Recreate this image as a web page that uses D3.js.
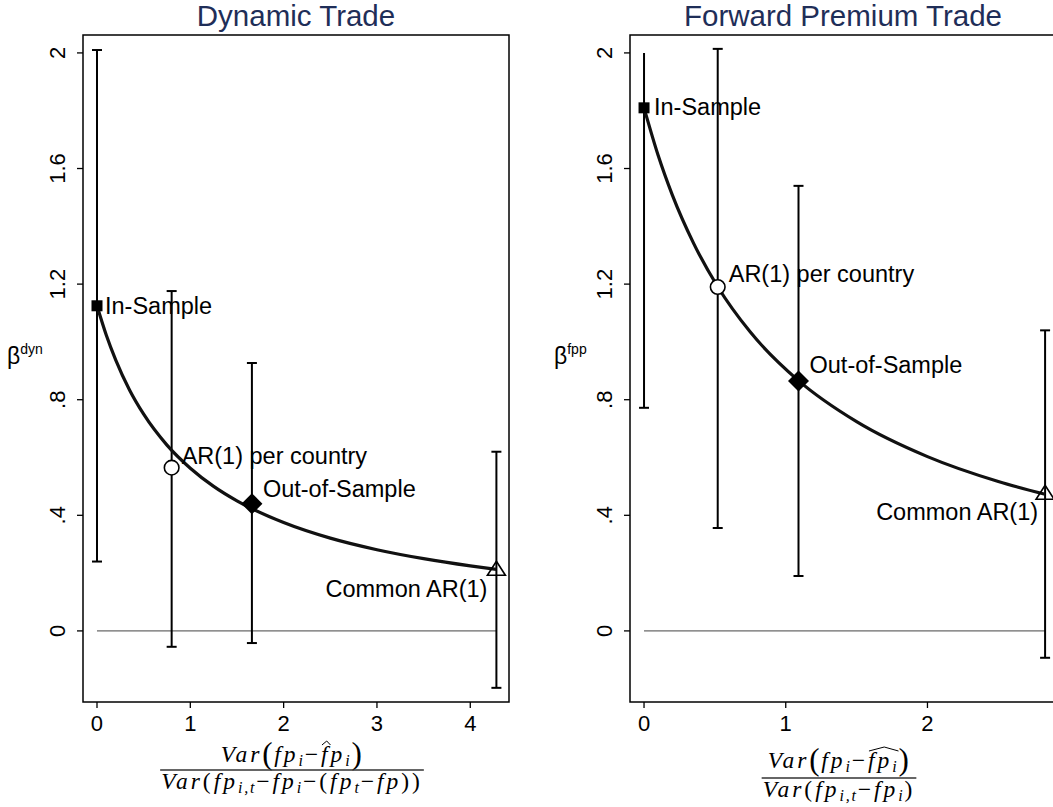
<!DOCTYPE html>
<html>
<head>
<meta charset="utf-8">
<script src="https://cdn.jsdelivr.net/npm/d3@7"></script>
<style>
  body { margin: 0; background: #fff; }
  svg { display: block; font-family: "Liberation Sans", Arial, sans-serif; }
</style>
</head>
<body>
<div id="chart"></div>
<script>
// ---- data ----
var pointNames = ["In-Sample", "AR(1) per country", "Out-of-Sample", "Common AR(1)"];
var yTicks = [0, 0.4, 0.8, 1.2, 1.6, 2];
var yTickLabels = ["0", ".4", ".8", "1.2", "1.6", "2"];

// Dynamic Trade
var dynX    = [0, 0.80, 1.66, 4.28];
var dynBeta = [1.125, 0.565, 0.44, 0.215];
var dynLo   = [0.24, -0.055, -0.042, -0.197];
var dynHi   = [2.01, 1.176, 0.927, 0.62];
var dynHiCap = [true, true, true, true];
var dynXTicks = [0, 1, 2, 3, 4];
var dynCurveX = [0, 0.1, 0.2, 0.35, 0.5, 0.75, 1, 1.25, 1.5, 2, 2.5, 3, 3.5, 4, 4.28];
var dynCurveY = [1.125, 1.023, 0.938, 0.833, 0.75, 0.643, 0.563, 0.5, 0.45, 0.375, 0.321, 0.281, 0.25, 0.225, 0.213];

// Forward Premium Trade
var fppX    = [0, 0.52, 1.09, 2.83];
var fppBeta = [1.81, 1.19, 0.865, 0.478];
var fppLo   = [0.772, 0.356, 0.19, -0.093];
var fppHi   = [2.0, 2.014, 1.54, 1.04];
var fppHiCap = [false, true, true, true];
var fppXTicks = [0, 1, 2];
var fppCurveX = [0, 0.1, 0.2, 0.35, 0.52, 0.75, 1.09, 1.5, 2, 2.5, 2.83];
var fppCurveY = [1.81, 1.645, 1.508, 1.341, 1.191, 1.034, 0.866, 0.724, 0.603, 0.517, 0.473];

// ---- layout ----
var svgWidth = 1053;
var svgHeight = 807;
var boxTop = 35, boxBottom = 702, boxW = 426;
var titleColor = "#1f2e58";
var mathFont = "'Liberation Serif', 'Times New Roman', serif";

var svg = d3.select("#chart")
  .append("svg")
  .attr("width", svgWidth)
  .attr("height", svgHeight);

svg.append("rect").attr("width", svgWidth).attr("height", svgHeight).attr("fill", "#fff");

var yScale = d3.scaleLinear().domain([-0.246, 2.062]).range([boxBottom, boxTop]);

// label offsets (pixels from marker) per point: [dx, dy, anchor]
var dynLabelPos = [[8, 8, "start"], [10, -4, "start"], [11, -7, "start"], [-9, 28, "end"]];
var fppLabelPos = [[10, 7, "start"], [11, -5, "start"], [11, -8, "start"], [-7, 27, "end"]];

function drawPanel(cfg) {
  var g = svg.append("g");
  var left = cfg.left;
  var x = d3.scaleLinear().domain(cfg.xDomain).range([left, left + boxW]);

  // plot box
  g.append("rect")
    .attr("x", left).attr("y", boxTop)
    .attr("width", boxW).attr("height", boxBottom - boxTop)
    .attr("fill", "#fff").attr("stroke", "#000").attr("stroke-width", 1.5);

  // title
  g.append("text")
    .attr("x", left + boxW / 2).attr("y", 25.5)
    .attr("text-anchor", "middle")
    .attr("font-size", "29.5px")
    .attr("fill", titleColor)
    .text(cfg.title);

  // y axis ticks + rotated labels
  var yAxis = g.append("g");
  yAxis.selectAll("line").data(yTicks).enter().append("line")
    .attr("x1", left - 6).attr("x2", left)
    .attr("y1", d => yScale(d)).attr("y2", d => yScale(d))
    .attr("stroke", "#000").attr("stroke-width", 1.3);
  yAxis.selectAll("text").data(yTicks).enter().append("text")
    .attr("transform", d => "translate(" + (left - 18) + "," + yScale(d) + ") rotate(-90)")
    .attr("text-anchor", "middle")
    .attr("font-size", "22px")
    .text((d, i) => yTickLabels[i]);

  // x axis ticks + labels
  var xAxis = g.append("g");
  xAxis.selectAll("line").data(cfg.xTicks).enter().append("line")
    .attr("x1", d => x(d)).attr("x2", d => x(d))
    .attr("y1", boxBottom).attr("y2", boxBottom + 6)
    .attr("stroke", "#000").attr("stroke-width", 1.3);
  xAxis.selectAll("text").data(cfg.xTicks).enter().append("text")
    .attr("x", d => x(d)).attr("y", boxBottom + 29)
    .attr("text-anchor", "middle")
    .attr("font-size", "22px")
    .text(d => d);

  // y title: beta with superscript
  var yt = g.append("text")
    .attr("x", left - 76).attr("y", 364)
    .attr("font-size", "23px");
  yt.append("tspan").text("\u03B2");
  yt.append("tspan").attr("dy", -10).attr("font-size", "14px").text(cfg.sup);

  // zero line
  g.append("line")
    .attr("x1", x(0)).attr("x2", x(cfg.px[cfg.px.length - 1]))
    .attr("y1", yScale(0)).attr("y2", yScale(0))
    .attr("stroke", "#444").attr("stroke-width", 1);

  var idx = d3.range(cfg.px.length);

  // confidence intervals
  g.selectAll(".ci").data(idx).enter().append("line")
    .attr("x1", i => x(cfg.px[i])).attr("x2", i => x(cfg.px[i]))
    .attr("y1", i => yScale(cfg.lo[i])).attr("y2", i => yScale(cfg.hi[i]))
    .attr("stroke", "#000").attr("stroke-width", 2);
  g.selectAll(".capLo").data(idx).enter().append("line")
    .attr("x1", i => x(cfg.px[i]) - 5).attr("x2", i => x(cfg.px[i]) + 5)
    .attr("y1", i => yScale(cfg.lo[i])).attr("y2", i => yScale(cfg.lo[i]))
    .attr("stroke", "#000").attr("stroke-width", 2);
  g.selectAll(".capHi").data(idx.filter(i => cfg.hiCap[i])).enter().append("line")
    .attr("x1", i => x(cfg.px[i]) - 5).attr("x2", i => x(cfg.px[i]) + 5)
    .attr("y1", i => yScale(cfg.hi[i])).attr("y2", i => yScale(cfg.hi[i]))
    .attr("stroke", "#000").attr("stroke-width", 2);

  // fitted curve
  var curve = d3.zip(cfg.cx, cfg.cy);
  var line = d3.line()
    .x(d => x(d[0])).y(d => yScale(d[1]))
    .curve(d3.curveMonotoneX);
  g.append("path").datum(curve)
    .attr("d", line)
    .attr("fill", "none").attr("stroke", "#111").attr("stroke-width", 3.2);

  // markers
  var cxs = idx.map(i => x(cfg.px[i]));
  var cys = idx.map(i => yScale(cfg.beta[i]));
  g.append("rect")
    .attr("x", cxs[0] - 5.5).attr("y", cys[0] - 5.5)
    .attr("width", 11).attr("height", 11).attr("fill", "#000");
  g.append("circle")
    .attr("cx", cxs[1]).attr("cy", cys[1]).attr("r", 7.3)
    .attr("fill", "#fff").attr("stroke", "#000").attr("stroke-width", 1.6);
  g.append("path")
    .attr("d", "M" + cxs[2] + "," + (cys[2] - 10.5) + "L" + (cxs[2] + 10.5) + "," + cys[2] +
      "L" + cxs[2] + "," + (cys[2] + 10.5) + "L" + (cxs[2] - 10.5) + "," + cys[2] + "Z")
    .attr("fill", "#000");
  g.append("path")
    .attr("d", "M" + cxs[3] + "," + (cys[3] - 7.5) + "L" + (cxs[3] + 9) + "," + (cys[3] + 6.5) +
      "L" + (cxs[3] - 9) + "," + (cys[3] + 6.5) + "Z")
    .attr("fill", "none").attr("stroke", "#000").attr("stroke-width", 1.6);

  // marker labels
  g.selectAll(".lab").data(idx).enter().append("text")
    .attr("x", i => cxs[i] + cfg.labelPos[i][0])
    .attr("y", i => cys[i] + cfg.labelPos[i][1])
    .attr("text-anchor", i => cfg.labelPos[i][2])
    .attr("font-size", "23.5px")
    .text(i => pointNames[i]);

  // x title: fraction built from pieces
  drawFraction(g, left + boxW / 2 - 4, cfg.barY, cfg.num, cfg.den, cfg.numLift);
}

// pieces: [text, kind] kind: i = italic, n = upright, s = subscript italic, b = big paren, h = italic with hat, hs = sub with hat
function layoutRow(g, pieces, baseline) {
  var row = g.append("g");
  var cur = 0, hatL = null, hatR = null;
  pieces.forEach(function (p) {
    var kind = p[1];
    var t = row.append("text")
      .attr("x", cur)
      .style("font-family", mathFont)
      .text(p[0]);
    var size = 23.5, y = baseline, ls = 3;
    if (kind === "s" || kind === "hs") { size = 16; y = baseline + 4; ls = 1.8; }
    if (kind === "b") { size = 31; y = baseline + 2; ls = 1.5; }
    t.attr("y", y).attr("font-size", size + "px")
      .style("letter-spacing", ls + "px")
      .attr("font-style", (kind === "n" || kind === "b") ? "normal" : "italic");
    var w = t.node().getComputedTextLength();
    if (kind === "h" || kind === "hs") {
      if (hatL === null) hatL = cur;
      hatR = cur + w;
    }
    cur += w;
  });
  if (hatL !== null) {
    var top = baseline - 21;
    row.append("path")
      .attr("d", "M" + (hatL + 1) + "," + (top + 4) + "L" + ((hatL + hatR) / 2 + 1) + "," + top + "L" + (hatR) + "," + (top + 4))
      .attr("fill", "none").attr("stroke", "#000").attr("stroke-width", 1);
  }
  return { g: row, w: cur };
}

function drawFraction(g, cx, barY, num, den, numLift) {
  var fg = g.append("g");
  var n = layoutRow(fg, num, barY - numLift);
  var d = layoutRow(fg, den, barY + 19);
  n.g.attr("transform", "translate(" + (cx - n.w / 2) + ",0)");
  d.g.attr("transform", "translate(" + (cx - d.w / 2) + ",0)");
  var bw = Math.max(n.w, d.w) + 2;
  fg.append("line")
    .attr("x1", cx - bw / 2).attr("x2", cx + bw / 2)
    .attr("y1", barY).attr("y2", barY)
    .attr("stroke", "#333").attr("stroke-width", 1.3);
}

var M = "\u2212";

drawPanel({
  left: 83, title: "Dynamic Trade", sup: "dyn",
  xDomain: [-0.15, 4.415], xTicks: dynXTicks,
  px: dynX, beta: dynBeta, lo: dynLo, hi: dynHi, hiCap: dynHiCap,
  cx: dynCurveX, cy: dynCurveY, labelPos: dynLabelPos,
  barY: 770, numLift: 8,
  num: [["Var", "i"], ["(", "b"], ["fp", "i"], ["i", "s"], [M, "n"], ["f", "h"], ["p", "i"], ["i", "s"], [")", "b"]],
  den: [["Var", "i"], ["(", "n"], ["fp", "i"], ["i,t", "s"], [M, "n"], ["fp", "i"], ["i", "s"], [M, "n"],
        ["(", "n"], ["fp", "i"], ["t", "s"], [M, "n"], ["fp", "i"], [")", "n"], [")", "n"]]
});

drawPanel({
  left: 630, title: "Forward Premium Trade", sup: "fpp",
  xDomain: [-0.099, 2.907], xTicks: fppXTicks,
  px: fppX, beta: fppBeta, lo: fppLo, hi: fppHi, hiCap: fppHiCap,
  cx: fppCurveX, cy: fppCurveY, labelPos: fppLabelPos,
  barY: 778, numLift: 10,
  num: [["Var", "i"], ["(", "b"], ["fp", "i"], ["i", "s"], [M, "n"], ["fp", "h"], ["i", "hs"], [")", "b"]],
  den: [["Var", "i"], ["(", "n"], ["fp", "i"], ["i,t", "s"], [M, "n"], ["fp", "i"], ["i", "s"], [")", "n"]]
});
</script>
</body>
</html>
